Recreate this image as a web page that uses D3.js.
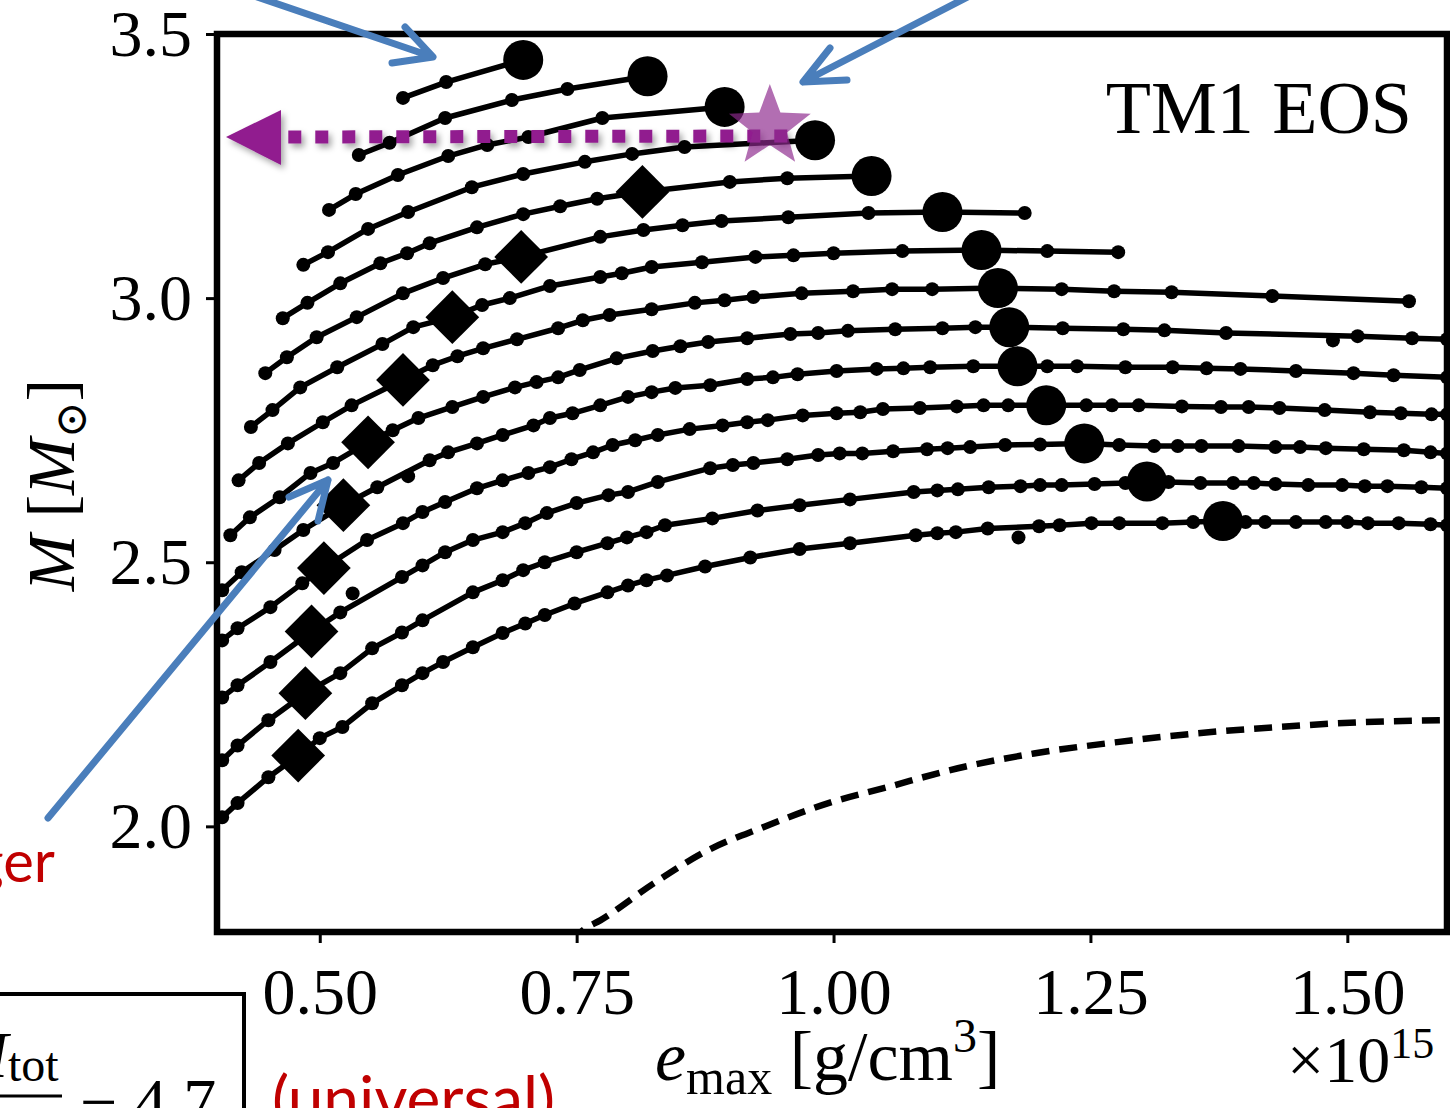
<!DOCTYPE html>
<html>
<head>
<meta charset="utf-8">
<script src="https://cdn.jsdelivr.net/npm/d3@7"></script>
<style>
  body { margin: 0; background: #fff; }
  svg { display: block; }
</style>
</head>
<body>
<div id="chart"></div>
<script>
// rotating sequences, [e_max (1e15 g/cm^3), M (Msun)], top to bottom
const seq01 = [[0.581,3.379],[0.623,3.409],[0.698,3.451]];
const seq02 = [[0.538,3.271],[0.568,3.294],[0.622,3.341],[0.687,3.375],[0.741,3.396],[0.819,3.420]];
const seq03 = [[0.509,3.167],[0.535,3.197],[0.576,3.233],[0.625,3.269],[0.663,3.290],[0.703,3.305],[0.775,3.341],[0.894,3.362]];
const seq04 = [[0.484,3.063],[0.508,3.087],[0.547,3.131],[0.586,3.163],[0.648,3.210],[0.698,3.235],[0.758,3.258],[0.804,3.273],[0.855,3.286],[0.982,3.299]];
const seq05 = [[0.464,2.962],[0.488,2.991],[0.520,3.028],[0.559,3.066],[0.585,3.085],[0.607,3.104],[0.653,3.134],[0.698,3.159],[0.734,3.174],[0.770,3.188],[0.814,3.201],[0.899,3.220],[0.955,3.227],[1.037,3.231]];
const seq06 = [[0.447,2.858],[0.468,2.888],[0.497,2.926],[0.536,2.964],[0.581,3.009],[0.620,3.038],[0.661,3.064],[0.696,3.078],[0.773,3.116],[0.815,3.129],[0.853,3.138],[0.891,3.146],[0.956,3.153],[1.034,3.161],[1.106,3.163],[1.186,3.161]];
const seq07 = [[0.433,2.756],[0.454,2.788],[0.481,2.831],[0.517,2.869],[0.561,2.913],[0.591,2.945],[0.629,2.964],[0.658,2.987],[0.685,3.000],[0.724,3.023],[0.773,3.040],[0.794,3.047],[0.823,3.059],[0.872,3.068],[0.924,3.078],[0.961,3.081],[1.000,3.085],[1.067,3.089],[1.144,3.091],[1.208,3.089],[1.277,3.087]];
const seq08 = [[0.421,2.655],[0.441,2.688],[0.469,2.725],[0.503,2.765],[0.531,2.797],[0.581,2.845],[0.610,2.873],[0.634,2.890],[0.659,2.905],[0.692,2.922],[0.732,2.943],[0.756,2.958],[0.782,2.968],[0.823,2.979],[0.865,2.991],[0.894,2.996],[0.922,3.002],[0.969,3.009],[1.019,3.013],[1.057,3.017],[1.096,3.017],[1.160,3.019],[1.222,3.017],[1.273,3.013],[1.329,3.011],[1.427,3.004],[1.560,2.994]];
const seq09 = [[0.413,2.551],[0.432,2.585],[0.461,2.623],[0.491,2.669],[0.513,2.688],[0.547,2.727],[0.571,2.750],[0.596,2.773],[0.629,2.794],[0.659,2.813],[0.690,2.831],[0.711,2.841],[0.732,2.850],[0.753,2.864],[0.789,2.886],[0.824,2.900],[0.851,2.909],[0.878,2.917],[0.916,2.924],[0.958,2.932],[0.985,2.934],[1.014,2.938],[1.060,2.941],[1.106,2.943],[1.138,2.945],[1.171,2.945],[1.223,2.943],[1.282,2.941],[1.322,2.939],[1.382,2.934],[1.510,2.928],[1.563,2.924],[1.597,2.922]];
const seq10 = [[0.405,2.447],[0.424,2.481],[0.456,2.523],[0.484,2.561],[0.523,2.608],[0.556,2.642],[0.607,2.693],[0.625,2.708],[0.653,2.725],[0.678,2.741],[0.708,2.759],[0.724,2.773],[0.746,2.782],[0.773,2.797],[0.800,2.813],[0.823,2.822],[0.846,2.830],[0.880,2.835],[0.916,2.847],[0.941,2.850],[0.965,2.856],[1.003,2.862],[1.042,2.866],[1.068,2.867],[1.094,2.869],[1.136,2.871],[1.179,2.871],[1.208,2.871],[1.237,2.871],[1.284,2.869],[1.330,2.869],[1.363,2.867],[1.396,2.866],[1.450,2.862],[1.506,2.858],[1.545,2.854],[1.597,2.850]];
const seq11 = [[0.405,2.352],[0.420,2.375],[0.452,2.415],[0.483,2.460],[0.504,2.489],[0.546,2.542],[0.581,2.574],[0.600,2.595],[0.622,2.614],[0.653,2.640],[0.678,2.655],[0.703,2.669],[0.724,2.680],[0.745,2.695],[0.766,2.708],[0.785,2.722],[0.807,2.731],[0.829,2.741],[0.860,2.752],[0.892,2.759],[0.916,2.765],[0.936,2.769],[0.970,2.778],[1.003,2.782],[1.026,2.784],[1.048,2.790],[1.084,2.792],[1.120,2.795],[1.146,2.797],[1.170,2.797],[1.207,2.797],[1.246,2.797],[1.271,2.797],[1.297,2.797],[1.339,2.795],[1.377,2.794],[1.404,2.794],[1.434,2.792],[1.478,2.788],[1.522,2.784],[1.552,2.782],[1.582,2.780],[1.597,2.780]];
const seq12 = [[0.405,2.244],[0.420,2.267],[0.452,2.311],[0.492,2.369],[0.520,2.405],[0.580,2.472],[0.600,2.494],[0.622,2.519],[0.649,2.542],[0.678,2.557],[0.700,2.574],[0.721,2.593],[0.750,2.612],[0.781,2.627],[0.800,2.633],[0.829,2.652],[0.880,2.678],[0.902,2.684],[0.922,2.688],[0.955,2.695],[0.985,2.703],[1.006,2.706],[1.028,2.706],[1.058,2.710],[1.091,2.714],[1.111,2.716],[1.133,2.718],[1.167,2.722],[1.201,2.723],[1.244,2.725],[1.278,2.722],[1.312,2.720],[1.335,2.720],[1.358,2.720],[1.394,2.720],[1.430,2.718],[1.454,2.718],[1.479,2.716],[1.516,2.714],[1.555,2.712],[1.581,2.708],[1.597,2.706]];
const seq13 = [[0.405,2.125],[0.420,2.153],[0.450,2.201],[0.486,2.252],[0.520,2.290],[0.551,2.337],[0.580,2.367],[0.600,2.390],[0.649,2.443],[0.678,2.466],[0.698,2.485],[0.719,2.500],[0.750,2.519],[0.780,2.536],[0.799,2.547],[0.818,2.557],[0.836,2.570],[0.882,2.583],[0.926,2.598],[0.967,2.608],[1.016,2.619],[1.078,2.633],[1.101,2.636],[1.121,2.638],[1.151,2.642],[1.182,2.644],[1.201,2.646],[1.222,2.646],[1.254,2.648],[1.284,2.650],[1.305,2.653],[1.326,2.652],[1.357,2.650],[1.389,2.650],[1.409,2.650],[1.430,2.648],[1.462,2.646],[1.495,2.646],[1.517,2.644],[1.539,2.644],[1.572,2.642],[1.597,2.640]];
const seq14 = [[0.405,2.017],[0.420,2.044],[0.450,2.093],[0.479,2.134],[0.500,2.167],[0.522,2.188],[0.551,2.233],[0.580,2.267],[0.600,2.290],[0.620,2.311],[0.649,2.339],[0.678,2.366],[0.700,2.384],[0.719,2.400],[0.748,2.422],[0.780,2.443],[0.800,2.456],[0.818,2.466],[0.838,2.475],[0.875,2.492],[0.919,2.509],[0.967,2.525],[1.016,2.536],[1.080,2.551],[1.101,2.555],[1.119,2.557],[1.150,2.564],[1.200,2.568],[1.220,2.570],[1.251,2.574],[1.278,2.574],[1.320,2.574],[1.350,2.576],[1.379,2.578],[1.401,2.576],[1.420,2.576],[1.450,2.576],[1.479,2.576],[1.500,2.576],[1.520,2.574],[1.550,2.574],[1.581,2.572],[1.597,2.570]];
const sequences = [seq01, seq02, seq03, seq04, seq05, seq06, seq07, seq08, seq09, seq10, seq11, seq12, seq13, seq14];

// non-rotating (TOV) branch, dashed
const tovCurve = [[0.745,1.780],[0.756,1.803],[0.773,1.822],[0.825,1.892],[0.878,1.955],[0.931,1.998],[0.995,2.044],[1.052,2.074],[1.121,2.110],[1.195,2.138],[1.274,2.159],[1.353,2.176],[1.432,2.188],[1.511,2.197],[1.597,2.201]];

// maximum mass of each sequence (big circles)
const maxMassE = [0.698,0.819,0.894,0.982,1.037,1.106,1.144,1.160,1.171,1.179,1.207,1.244,1.305,1.379];
const maxMassM = [3.451,3.420,3.362,3.299,3.231,3.163,3.091,3.019,2.945,2.871,2.797,2.725,2.653,2.578];

// diamonds
const diamondE = [0.814,0.696,0.629,0.581,0.547,0.523,0.504,0.492,0.486,0.479];
const diamondM = [3.201,3.078,2.964,2.845,2.727,2.608,2.489,2.369,2.252,2.134];

// loose points off the lines
const extraE = [0.586,0.532,1.180,1.486];
const extraM = [2.663,2.441,2.547,2.920];

// star at the end of the purple arrow
const starE = 0.938, starM = 3.324;

const xTicks = [0.50, 0.75, 1.00, 1.25, 1.50];
const yTicks = [2.0, 2.5, 3.0, 3.5];

var W = 1450, H = 1108;
var plot = { left: 217, right: 1447, top: 34, bottom: 932 };
var serif = "'Liberation Serif', 'DejaVu Serif', serif";
var sans = "Lato, 'Open Sans', 'Noto Sans', sans-serif";

var svg = d3.select("#chart").append("svg")
    .attr("width", W)
    .attr("height", H);

var defs = svg.append("defs");
defs.append("clipPath").attr("id", "plot-clip")
    .append("rect")
    .attr("x", plot.left)
    .attr("y", plot.top)
    .attr("width", plot.right - plot.left)
    .attr("height", plot.bottom - plot.top);

var shadow = defs.append("filter").attr("id", "shadow")
    .attr("x", "-10%").attr("y", "-60%").attr("width", "130%").attr("height", "260%");
shadow.append("feDropShadow")
    .attr("dx", 3).attr("dy", 4).attr("stdDeviation", 3)
    .attr("flood-color", "#000").attr("flood-opacity", 0.35);

var x = d3.scaleLinear().domain([0.4, 1.597]).range([plot.left, plot.right]);
var y = d3.scaleLinear().domain([1.8, 3.5]).range([plot.bottom, plot.top]);

var line = d3.line()
    .x(function (d) { return x(d[0]); })
    .y(function (d) { return y(d[1]); });

var g = svg.append("g").attr("clip-path", "url(#plot-clip)");

// dashed non-rotating curve
g.append("path")
    .datum(tovCurve)
    .attr("fill", "none")
    .attr("stroke", "#000")
    .attr("stroke-width", 6.5)
    .attr("stroke-dasharray", "18,10")
    .attr("d", line.curve(d3.curveMonotoneX));
line.curve(d3.curveLinear);

// sequences: line with small dots
sequences.forEach(function (seq) {
    g.append("path")
        .datum(seq)
        .attr("fill", "none")
        .attr("stroke", "#000")
        .attr("stroke-width", 5.5)
        .attr("stroke-linejoin", "round")
        .attr("d", line);
    g.append("g")
        .selectAll("circle")
        .data(seq)
        .enter()
        .append("circle")
        .attr("cx", function (d) { return x(d[0]); })
        .attr("cy", function (d) { return y(d[1]); })
        .attr("r", 7)
        .attr("fill", "#000");
});

g.append("g")
    .selectAll("circle")
    .data(extraE)
    .enter()
    .append("circle")
    .attr("cx", function (d) { return x(d); })
    .attr("cy", function (d, i) { return y(extraM[i]); })
    .attr("r", 7)
    .attr("fill", "#000");

// diamonds (square turned 45 degrees)
var diamond = d3.symbol().type(d3.symbolSquare).size(38 * 38);
g.append("g")
    .selectAll("path")
    .data(diamondE)
    .enter()
    .append("path")
    .attr("d", diamond)
    .attr("transform", function (d, i) {
        return "translate(" + x(d) + "," + y(diamondM[i]) + ") rotate(45)";
    })
    .attr("fill", "#000");

// max mass circles
g.append("g")
    .selectAll("circle")
    .data(maxMassE)
    .enter()
    .append("circle")
    .attr("cx", function (d) { return x(d); })
    .attr("cy", function (d, i) { return y(maxMassM[i]); })
    .attr("r", 20)
    .attr("fill", "#000");

// axes
var yAxis = svg.append("g")
    .attr("transform", "translate(" + plot.left + ",0)")
    .call(d3.axisLeft(y).tickValues(yTicks).tickFormat(d3.format(".1f")).tickSize(11).tickPadding(14));
var xAxis = svg.append("g")
    .attr("transform", "translate(0," + plot.bottom + ")")
    .call(d3.axisBottom(x).tickValues(xTicks).tickFormat(d3.format(".2f")).tickSize(11).tickPadding(24));
[yAxis, xAxis].forEach(function (ax) {
    ax.select(".domain").remove();
    ax.selectAll(".tick line").attr("stroke", "#000").attr("stroke-width", 3);
    ax.selectAll(".tick text")
        .attr("fill", "#000")
        .style("font-family", serif)
        .style("font-size", "66px");
});

// frame
svg.append("rect")
    .attr("x", plot.left)
    .attr("y", plot.top)
    .attr("width", plot.right - plot.left)
    .attr("height", plot.bottom - plot.top)
    .attr("fill", "none")
    .attr("stroke", "#000")
    .attr("stroke-width", 6.5);

// axis labels
var xl = svg.append("text")
    .attr("x", 655).attr("y", 1080)
    .style("font-family", serif).style("font-size", "70px");
xl.append("tspan").style("font-style", "italic").text("e");
xl.append("tspan").attr("dy", 14).style("font-size", "50px").text("max");
xl.append("tspan").attr("dy", -14).text(" [g/cm");
xl.append("tspan").attr("dy", -28).style("font-size", "48px").text("3");
xl.append("tspan").attr("dy", 28).text("]");

var mult = svg.append("text")
    .attr("x", 1287).attr("y", 1082)
    .style("font-family", serif).style("font-size", "66px");
mult.append("tspan").text("×10");
mult.append("tspan").attr("dy", -24).style("font-size", "44px").text("15");

var yl = svg.append("text")
    .attr("transform", "translate(74,485) rotate(-90)")
    .attr("text-anchor", "middle")
    .style("font-family", serif).style("font-size", "68px");
yl.append("tspan").style("font-style", "italic").text("M");
yl.append("tspan").text(" [");
yl.append("tspan").style("font-style", "italic").text("M");
yl.append("tspan").attr("dy", 12).style("font-size", "44px").text("⊙");
yl.append("tspan").attr("dy", -12).text("]");

svg.append("text")
    .attr("x", 1412).attr("y", 133)
    .attr("text-anchor", "end")
    .style("font-family", serif).style("font-size", "74px")
    .text("TM1 EOS");

// purple dotted arrow pointing to the axis
var purple = "#911f8f";
var ann = svg.append("g").attr("filter", "url(#shadow)");
ann.append("line")
    .attr("x1", x(0.955)).attr("y1", y(3.307))
    .attr("x2", 283).attr("y2", 137)
    .attr("stroke", purple)
    .attr("stroke-width", 13)
    .attr("stroke-dasharray", "13,14");
ann.append("path")
    .attr("d", "M226,137 L281,110 L281,165 Z")
    .attr("fill", purple);

// star
var starPts = d3.range(10).map(function (i) {
    var r = i % 2 === 0 ? 43 : 18;
    var a = -Math.PI / 2 + i * Math.PI / 5;
    return [r * Math.cos(a), r * Math.sin(a)];
});
svg.append("path")
    .attr("d", "M" + starPts.join("L") + "Z")
    .attr("transform", "translate(" + x(starE) + "," + y(starM) + ")")
    .attr("fill", "#8e2a8e")
    .attr("fill-opacity", 0.68);

// blue arrows from the slide
var blue = "#4a7ebb";
var arrows = [
    { tail: [225, -14], tip: [433, 57], w1: [405, 27], w2: [392, 63] },
    { tail: [985, -12], tip: [803, 82], w1: [830, 48], w2: [847, 80] },
    { tail: [48, 818], tip: [328, 480], w1: [289, 497], w2: [318, 521] }
];
arrows.forEach(function (a) {
    var p = d3.path();
    p.moveTo(a.tail[0], a.tail[1]);
    p.lineTo(a.tip[0], a.tip[1]);
    p.moveTo(a.w1[0], a.w1[1]);
    p.lineTo(a.tip[0], a.tip[1]);
    p.lineTo(a.w2[0], a.w2[1]);
    svg.append("path")
        .attr("d", p.toString())
        .attr("fill", "none")
        .attr("stroke", blue)
        .attr("stroke-width", 7)
        .attr("stroke-linecap", "round")
        .attr("stroke-linejoin", "round");
});

// red slide text
svg.append("text")
    .attr("x", 55).attr("y", 882)
    .attr("text-anchor", "end")
    .attr("fill", "#c00000")
    .style("font-family", sans).style("font-size", "58px")
    .text("larger");
svg.append("text")
    .attr("x", 272).attr("y", 1122)
    .attr("fill", "#c00000")
    .style("font-family", sans).style("font-size", "64px")
    .text("(universal)");

// formula box, cut at the edges
svg.append("rect")
    .attr("x", -10).attr("y", 994)
    .attr("width", 254).attr("height", 200)
    .attr("fill", "none")
    .attr("stroke", "#000")
    .attr("stroke-width", 4);
var f = svg.append("text")
    .attr("x", -47).attr("y", 1077)
    .style("font-family", serif).style("font-size", "66px");
f.append("tspan").style("font-style", "italic").text("M");
f.append("tspan").attr("dy", 4).style("font-size", "48px").text("tot");
svg.append("line")
    .attr("x1", 0).attr("x2", 62)
    .attr("y1", 1096).attr("y2", 1096)
    .attr("stroke", "#000").attr("stroke-width", 3);
svg.append("text")
    .attr("x", 80).attr("y", 1124)
    .style("font-family", serif).style("font-size", "66px")
    .text("− 4.7");
</script>
</body>
</html>
